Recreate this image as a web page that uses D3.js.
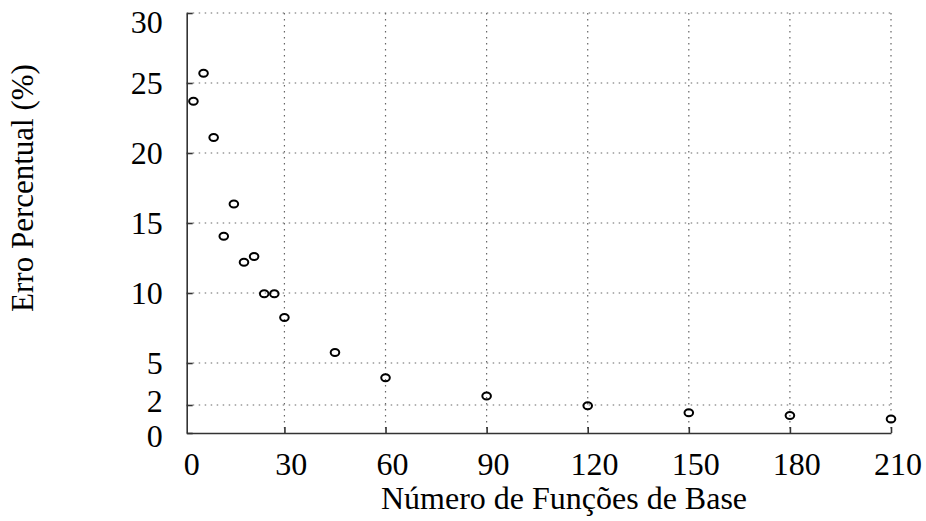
<!DOCTYPE html>
<html>
<head>
<meta charset="utf-8">
<script src="https://cdn.jsdelivr.net/npm/d3@7"></script>
<style>
  html, body { margin: 0; padding: 0; background: #fff; }
  svg { display: block; font-family: "Liberation Serif", "DejaVu Serif", serif; }
</style>
</head>
<body>
<svg id="chart" width="926" height="521"></svg>
<script>
// Number of basis functions vs. percentage error
const basisCounts = [3, 6, 9, 12, 15, 18, 21, 24, 27, 30, 45, 60, 90, 120, 150, 180, 210];
const errorPercent = [23.7, 25.7, 21.1, 14.05, 16.35, 12.2, 12.6, 9.95, 9.95, 8.25, 5.75, 3.95, 2.65, 1.95, 1.45, 1.25, 1.0];
const xTicks = [0, 30, 60, 90, 120, 150, 180, 210];
const yTicks = [0, 2, 5, 10, 15, 20, 25, 30];

const xTitle = "Número de Funções de Base";
const yTitle = "Erro Percentual (%)";

const svg = d3.select("#chart");
const plotLeft = 186.7, plotRight = 891, plotTop = 13, plotBottom = 433;

const x = d3.scaleLinear().domain([1, 210]).range([plotLeft, plotRight]);
const y = d3.scaleLinear().domain([0, 30]).range([plotBottom, plotTop]);

const gridColor = "#666";
const axisColor = "#333";
const fontSize = 32;

// dotted grid
const grid = svg.append("g");
grid.selectAll("line.h")
  .data(yTicks.filter(d => d > 0))
  .join("line")
  .attr("x1", plotLeft).attr("x2", plotRight)
  .attr("y1", d => y(d)).attr("y2", d => y(d))
  .attr("stroke", gridColor).attr("stroke-width", 1.2)
  .attr("stroke-dasharray", "1.5,4.5");
grid.selectAll("line.v")
  .data(xTicks.filter(d => d > 0))
  .join("line")
  .attr("x1", d => x(d)).attr("x2", d => x(d))
  .attr("y1", plotTop).attr("y2", plotBottom)
  .attr("stroke", gridColor).attr("stroke-width", 1.2)
  .attr("stroke-dasharray", "1.5,4.5");

// y axis
const yAxis = svg.append("g")
  .attr("transform", `translate(${plotLeft},0)`)
  .call(d3.axisLeft(y).tickValues(yTicks).tickSize(-6).tickPadding(24).tickSizeOuter(0));
// x axis
const xAxis = svg.append("g")
  .attr("transform", `translate(0,${plotBottom})`)
  .call(d3.axisBottom(x).tickValues(xTicks).tickSize(-6).tickPadding(19).tickSizeOuter(0));

[yAxis, xAxis].forEach(g => {
  g.select(".domain").attr("stroke", axisColor).attr("stroke-width", 1.6);
  g.selectAll(".tick line").attr("stroke", axisColor).attr("stroke-width", 1.6);
  g.selectAll(".tick text")
    .attr("fill", "#000")
    .style("font-family", '"Liberation Serif", serif')
    .style("font-size", fontSize + "px");
});
xAxis.selectAll(".tick text").attr("dx", "0.2em");
// first x label sits to the right of the axis corner
xAxis.selectAll(".tick").filter(d => d === 0).select("line").remove();
xAxis.selectAll(".tick").filter(d => d === 0).select("text").attr("text-anchor", "start").attr("dx", "0");

// y labels: spread apart where ticks are close, keep the top one inside the view
const minGap = 35, topLimit = 22;
const labelPos = yTicks.map(v => ({ v, p: y(v) }));
for (let it = 0; it < 20; it++) {
  for (let i = 0; i < labelPos.length - 1; i++) {
    const a = labelPos[i], b = labelPos[i + 1];
    const gap = a.p - b.p;
    if (gap < minGap) { const s = (minGap - gap) / 2; a.p += s; b.p -= s; }
  }
  labelPos.forEach(l => { if (l.p < topLimit) l.p = topLimit; });
}
yAxis.selectAll(".tick text")
  .attr("y", (d, i) => labelPos[yTicks.indexOf(d)].p - y(d));

// data points: open markers
svg.append("g")
  .selectAll("ellipse")
  .data(basisCounts.map((b, i) => ({ b, e: errorPercent[i] })))
  .join("ellipse")
  .attr("cx", d => x(d.b))
  .attr("cy", d => y(d.e))
  .attr("rx", 4.3).attr("ry", 3.5)
  .attr("fill", "none")
  .attr("stroke", "#000")
  .attr("stroke-width", 2);

// axis titles
svg.append("text")
  .attr("x", 564).attr("y", 509)
  .attr("text-anchor", "middle")
  .style("font-size", fontSize + "px")
  .attr("fill", "#000")
  .text(xTitle);

svg.append("text")
  .attr("transform", "translate(33,188) rotate(-90)")
  .attr("text-anchor", "middle")
  .style("font-size", "31px")
  .attr("fill", "#000")
  .text(yTitle);
</script>
</body>
</html>
